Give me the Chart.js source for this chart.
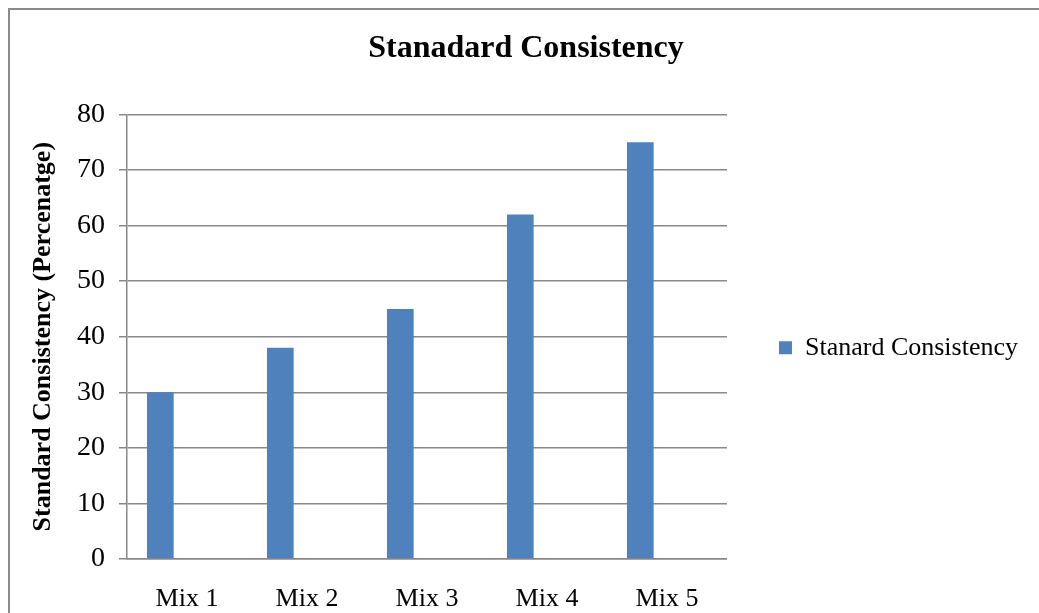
<!DOCTYPE html>
<html>
<head>
<meta charset="utf-8">
<script src="https://cdn.jsdelivr.net/npm/chart.js@4/dist/chart.umd.min.js"></script>
<style>
  html, body { margin: 0; padding: 0; background: #fff; overflow: hidden; }
  #wrap { position: relative; width: 1039px; height: 613px; }
  #frame { position: absolute; left: 8px; top: 8px; width: 1100px; height: 700px;
           border-left: 2px solid #8a8a8a; border-top: 2px solid #8a8a8a; box-sizing: border-box; pointer-events: none; }
  canvas { position: absolute; left: 0; top: 0; }
</style>
</head>
<body>
<div id="wrap">
  <canvas id="chart" width="1039" height="613"></canvas>
  <div id="frame"></div>
</div>
<script>
// Mix designs and their standard consistency (%)
const categories = ['Mix 1', 'Mix 2', 'Mix 3', 'Mix 4', 'Mix 5'];
const consistencyValues = [30, 38, 45, 62, 75];
const seriesName = 'Stanard Consistency';
const chartTitle = 'Stanadard Consistency';
const yAxisTitle = 'Standard Consistency (Percenatge)';
const yTicks = [0, 10, 20, 30, 40, 50, 60, 70, 80];

const serif = "'Liberation Serif', 'Times New Roman', serif";
const gridGray = '#888888';
const barBlue = '#4F81BD';

new Chart(document.getElementById('chart'), {
  type: 'bar',
  data: {
    labels: categories,
    datasets: [
      { label: seriesName, data: consistencyValues, backgroundColor: barBlue, borderWidth: 0 },
      // two empty series keep the bar in the left slot of each group
      { label: '', data: categories.map(() => null), backgroundColor: barBlue },
      { label: '', data: categories.map(() => null), backgroundColor: barBlue }
    ]
  },
  options: {
    responsive: false,
    animation: false,
    devicePixelRatio: 1,
    layout: { padding: { left: 24, right: 11, top: 0, bottom: 0 } },
    datasets: { bar: { categoryPercentage: 0.667, barPercentage: 1.0 } },
    plugins: {
      tooltip: { enabled: false },
      title: {
        display: true,
        text: chartTitle,
        color: '#000',
        font: { family: serif, size: 32, weight: 'bold' },
        padding: { top: 30, bottom: 46 }
      },
      legend: {
        display: true,
        position: 'right',
        fullSize: false,
        maxWidth: 600,
        title: { display: true, text: ' ', font: { size: 10 }, padding: { top: 5, bottom: 5 } },
        labels: {
          filter: (item) => item.datasetIndex === 0,
          color: '#000',
          font: { family: serif, size: 26 },
          boxWidth: 13,
          boxHeight: 13,
          padding: 10
        }
      }
    },
    scales: {
      x: {
        grid: { display: false, drawTicks: false },
        border: { display: true, color: gridGray, width: 1.5 },
        ticks: { color: '#000', font: { family: serif, size: 26 }, padding: 25, maxRotation: 0 },
        afterFit: (s) => { s.height = 54; }
      },
      y: {
        min: 0,
        max: 80,
        afterBuildTicks: (s) => { s.ticks = yTicks.map(v => ({ value: v })); },
        grid: { color: gridGray, lineWidth: 1.5, tickLength: 8, drawTicks: true },
        border: { display: true, color: gridGray, width: 1.5 },
        ticks: { color: '#000', font: { family: serif, size: 28 }, padding: 14 },
        title: {
          display: true,
          text: yAxisTitle,
          color: '#000',
          font: { family: serif, size: 26, weight: 'bold' },
          padding: { top: 4, bottom: 4 }
        },
        afterFit: (s) => { s.width = 103; }
      },
      gap: {
        position: 'right',
        display: true,
        grid: { display: false },
        border: { display: false },
        ticks: { display: false },
        afterFit: (s) => { s.width = 42; }
      }
    }
  }
});
</script>
</body>
</html>
